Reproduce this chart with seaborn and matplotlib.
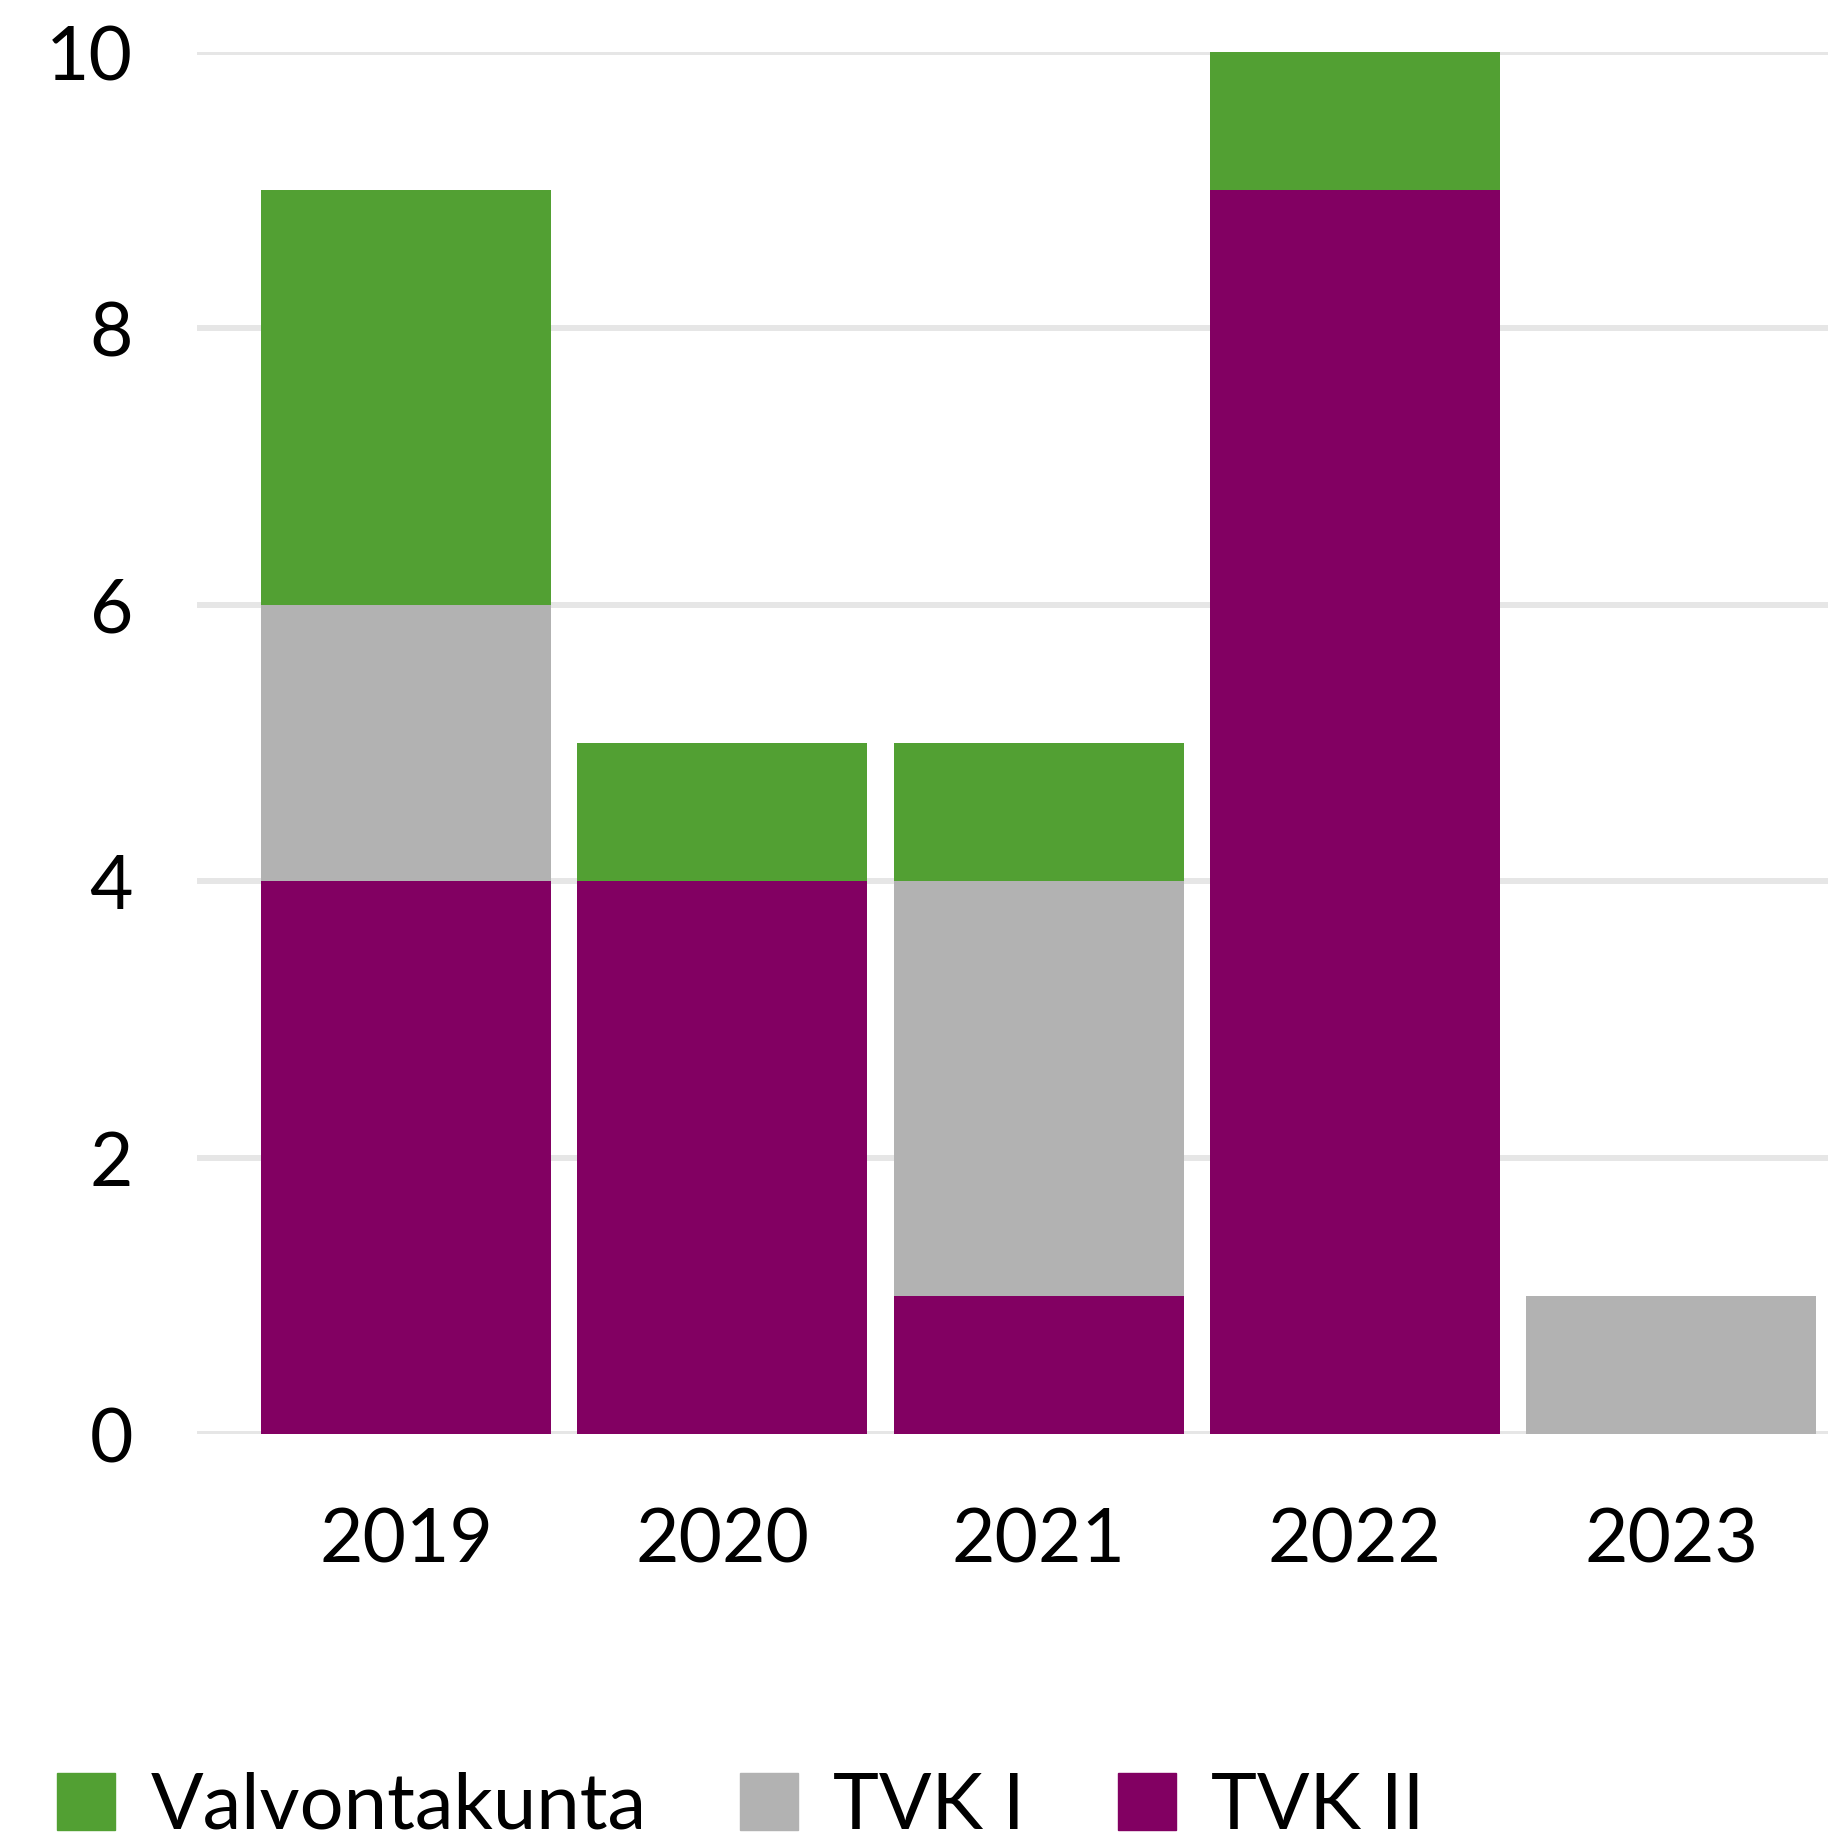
import matplotlib
matplotlib.use('Agg')
import matplotlib.pyplot as plt
import seaborn as sns
from matplotlib.patches import Patch

sns.set_theme(style='white')
plt.rcParams['font.family'] = ['Lato', 'DejaVu Sans']
plt.rcParams['text.color'] = 'black'
plt.rcParams['xtick.color'] = 'black'
plt.rcParams['ytick.color'] = 'black'

years = ['2019', '2020', '2021', '2022', '2023']
tvk_ii = [4, 4, 1, 9, 0]
tvk_i = [2, 0, 3, 0, 1]
valvontakunta = [3, 1, 1, 1, 0]

GREEN = '#52A033'
GREY = '#B2B2B2'
PURPLE = '#820062'

fig = plt.figure(figsize=(18.39, 18.39), dpi=100)
ax = fig.add_axes([0.1071, 0.2202, 0.887, 0.7515])

# stacked: TVK II at the bottom, then TVK I, then Valvontakunta
bottom_i = tvk_ii
bottom_v = [a + b for a, b in zip(tvk_ii, tvk_i)]
bar_kw = dict(width=0.917, saturation=1, linewidth=0, ax=ax)
sns.barplot(x=years, y=tvk_ii, color=PURPLE, **bar_kw)
sns.barplot(x=years, y=tvk_i, bottom=bottom_i, color=GREY, **bar_kw)
sns.barplot(x=years, y=valvontakunta, bottom=bottom_v, color=GREEN, **bar_kw)

ax.set_ylim(0, 10)
ax.set_xlim(-0.662, 4.497)
ax.set_yticks([0, 2, 4, 6, 8, 10])
ax.yaxis.grid(True, color='#E6E6E6', linewidth=4.3)
ax.set_axisbelow(True)
for s in ax.spines.values():
    s.set_visible(False)
ax.tick_params(axis='y', length=0, pad=46, labelsize=54)
ax.tick_params(axis='x', length=0, pad=52, labelsize=54)
ax.set_xlabel('')
ax.set_ylabel('')

handles = [Patch(color=GREEN, label='Valvontakunta'),
           Patch(color=GREY, label='TVK I'),
           Patch(color=PURPLE, label='TVK II')]
fig.legend(handles=handles, loc='lower left', bbox_to_anchor=(0.031, -0.002),
           ncol=3, frameon=False, fontsize=56, handlelength=0.75, handleheight=0.75,
           handletextpad=0.45, columnspacing=1.2, borderpad=0, borderaxespad=0)

fig.savefig('out.png', dpi=100)
